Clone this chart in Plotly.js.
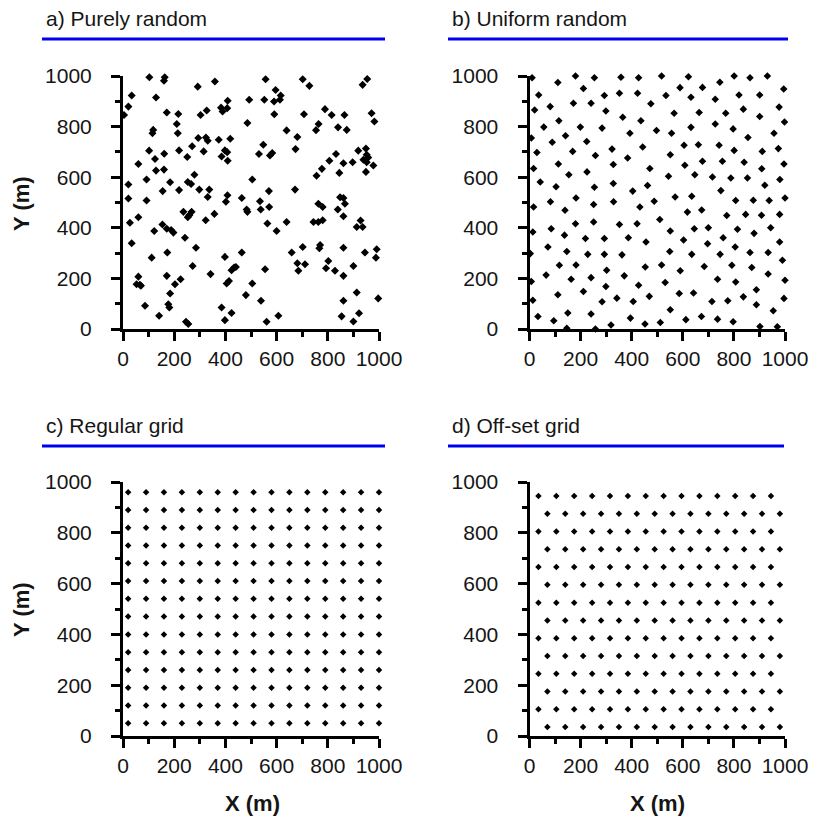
<!DOCTYPE html>
<html>
<head>
<meta charset="utf-8">
<script src="https://cdn.plot.ly/plotly-3.0.1.min.js"></script>
<style>html,body{margin:0;padding:0;background:#fff;}#chart{width:814px;height:820px;}</style>
</head>
<body>
<div id="chart"></div>
<script>
// ---------- Data ----------
// a) Purely random
const randX = [103,163,160,292,359,557,702,728,936,954,34,129,21,4,171,216,303,327,383,389,409,407,493,552,596,590,616,613,591,707,789,815,865,971,982,210,214,118,115,486,639,681,764,754,840,874,294,324,331,374,419,548,674,102,161,219,270,251,315,385,398,407,409,531,574,583,125,60,129,160,279,832,806,861,897,919,949,952,958,939,952,978,949,777,756,845,21,92,184,253,266,505,155,219,298,337,672,570,
21,92,331,408,464,535,571,483,486,538,402,27,60,34,122,154,171,188,197,236,268,259,253,242,285,323,357,564,639,600,744,763,780,763,780,839,861,848,861,867,928,913,936,112,173,60,53,66,70,171,184,177,181,225,203,86,141,272,246,255,342,398,434,441,424,464,405,414,505,480,385,398,424,539,555,561,607,659,702,681,685,711,770,767,793,802,828,861,861,900,913,861,854,900,922,945,988,991,997];
const randY = [995,995,981,958,978,987,987,961,965,988,923,915,879,846,856,850,846,864,875,860,902,873,906,906,945,899,923,906,849,849,869,846,846,853,820,810,774,787,774,814,785,759,810,786,797,787,755,757,744,748,752,728,711,705,693,706,722,680,702,682,706,699,665,692,686,696,672,652,626,630,610,692,665,655,659,705,713,689,678,669,659,646,621,633,606,617,571,591,580,581,573,591,545,549,551,551,551,545,
516,508,522,529,518,505,482,472,463,472,503,420,442,339,387,413,396,391,381,463,463,450,442,361,321,430,455,417,423,387,423,423,430,495,482,472,446,521,518,495,429,403,403,282,302,207,177,175,171,210,140,98,85,197,177,92,52,249,29,20,217,285,243,245,232,302,180,190,180,134,85,35,63,112,236,29,52,302,324,260,230,256,332,319,240,269,230,321,210,249,144,112,50,30,62,302,282,315,121];

// b) Uniform random
const unifX = [10,111,180,254,358,427,517,622,801,863,931,745,677,589,211,352,423,293,36,534,632,820,901,995,20,81,172,241,299,365,436,475,566,664,727,768,837,901,977,998,115,56,7,141,199,284,393,497,556,632,727,797,855,957,89,224,323,443,605,661,742,801,911,974,29,169,258,384,551,16,113,328,471,608,677,755,840,909,996,154,225,42,104,254,328,404,462,544,647,716,788,853,921,980,749,
16,82,182,251,329,432,488,570,635,807,876,938,1000,139,618,674,772,846,908,979,510,180,251,352,421,13,85,137,219,293,387,456,551,645,700,814,879,944,603,697,758,805,979,72,146,228,293,362,549,635,746,863,934,3,117,182,302,371,453,517,590,684,792,870,990,65,163,241,934,736,807,1000,7,531,427,299,111,211,342,406,469,586,642,714,776,837,888,284,13,888,996,33,95,150,241,146,258,319,395,452,512,551,612,673,736,797,954,902,970];
const unifY = [993,974,1000,993,995,993,1000,997,1000,993,1000,975,955,954,951,932,932,923,925,923,916,925,925,949,866,879,892,892,862,837,823,890,853,856,908,853,869,840,877,818,823,798,755,764,798,794,774,785,774,797,810,791,757,774,738,741,711,719,726,728,726,706,702,713,698,702,686,676,689,634,652,650,634,647,663,663,659,633,652,610,621,581,562,560,575,545,567,604,610,601,597,597,568,591,547,
482,503,518,492,503,482,505,522,525,508,509,508,518,469,462,470,449,453,450,453,433,416,423,413,416,383,396,371,358,358,361,344,387,396,400,394,378,400,352,337,361,324,344,324,306,295,295,293,306,295,295,302,302,298,252,253,232,210,245,253,230,247,252,243,272,213,197,203,217,197,186,193,188,184,173,168,135,148,122,109,129,140,142,109,112,127,155,108,114,96,121,49,33,63,59,3,0,16,43,20,26,76,37,49,39,29,72,10,9];

// c) Regular grid
const gridX = [20,90,160,230,300,370,440,510,580,650,720,790,860,930,1000];
const gridY = [50,120,190,260,330,400,470,540,610,680,750,820,890,960];

// d) Off-set grid
const offY = [35,105,175,245,315,385,455,525,595,665,735,805,875,945];
const offXShort = [70,140,210,280,350,420,490,560,630,700,770,840,910,980]; // rows at y = 35,175,...
const offXLong  = [35,105,175,245,315,385,455,525,595,665,735,805,875,945]; // rows at y = 105,245,...

const panelTitles = ["a) Purely random","b) Uniform random","c) Regular grid","d) Off-set grid"];
const tickVals = [0,200,400,600,800,1000];

// ---------- Build grid traces ----------
const gX = [], gY = [];
gridY.forEach(y => gridX.forEach(x => { gX.push(x); gY.push(y); }));
const oX = [], oY = [];
offY.forEach((y, k) => {
  const row = (k % 2 === 0) ? offXShort : offXLong;
  row.forEach(x => { oX.push(x); oY.push(y); });
});

const FONT = "Liberation Sans, Arial, Helvetica, sans-serif";
const TXT = '#151515';
const mk = (sz) => ({symbol: 'diamond', size: sz, color: '#000', line: {width: 0}});

const traces = [
  {x: randX, y: randY, xaxis: 'x', yaxis: 'y', mode: 'markers', type: 'scatter', marker: mk(6.2), cliponaxis: false, hoverinfo: 'x+y'},
  {x: unifX, y: unifY, xaxis: 'x2', yaxis: 'y2', mode: 'markers', type: 'scatter', marker: mk(5.8), cliponaxis: false, hoverinfo: 'x+y'},
  {x: gX, y: gY, xaxis: 'x3', yaxis: 'y3', mode: 'markers', type: 'scatter', marker: mk(5), cliponaxis: false, hoverinfo: 'x+y'},
  {x: oX, y: oY, xaxis: 'x4', yaxis: 'y4', mode: 'markers', type: 'scatter', marker: mk(5), cliponaxis: false, hoverinfo: 'x+y'}
];

const W = 814, H = 820;
const px = v => v / W, py = v => 1 - v / H;

function axis(domain, anchor, isY) {
  const a = {
    domain: domain, anchor: anchor, range: [0, 1000],
    showgrid: false, zeroline: false,
    showline: true, linewidth: 3, linecolor: '#000', mirror: false,
    ticks: 'outside', ticklen: 9, tickwidth: 3, tickcolor: '#000',
    tickvals: tickVals, ticktext: tickVals.map(String),
    minor: {ticks: 'outside', dtick: 100, tick0: 0, ticklen: 5, tickwidth: 3, tickcolor: '#000', showgrid: false},
    tickfont: {family: FONT, size: 21, color: TXT},
    fixedrange: true
  };
  if (isY) a.ticklabelstandoff = 15;
  return a;
}

const xa = [px(123), px(379)], xb = [px(529.5), px(785)];
const yTop = [py(329), py(76)], yBot = [py(736), py(482)];

const blue = '#0000f0';
const layout = {
  width: W, height: H,
  margin: {l: 0, r: 0, t: 0, b: 0, pad: 0},
  paper_bgcolor: '#fff', plot_bgcolor: 'rgba(0,0,0,0)',
  showlegend: false,
  xaxis: axis(xa, 'y', false), yaxis: axis(yTop, 'x', true),
  xaxis2: axis(xb, 'y2', false), yaxis2: axis(yTop, 'x2', true),
  xaxis3: axis(xa, 'y3', false), yaxis3: axis(yBot, 'x3', true),
  xaxis4: axis(xb, 'y4', false), yaxis4: axis(yBot, 'x4', true),
  shapes: [
    {type: 'line', xref: 'paper', yref: 'paper', x0: px(42), x1: px(385), y0: py(39), y1: py(39), line: {color: blue, width: 3}},
    {type: 'line', xref: 'paper', yref: 'paper', x0: px(448), x1: px(788), y0: py(39), y1: py(39), line: {color: blue, width: 3}},
    {type: 'line', xref: 'paper', yref: 'paper', x0: px(42), x1: px(385), y0: py(446), y1: py(446), line: {color: blue, width: 3}},
    {type: 'line', xref: 'paper', yref: 'paper', x0: px(448), x1: px(784), y0: py(446), y1: py(446), line: {color: blue, width: 3}}
  ],
  annotations: [
    {text: panelTitles[0], xref: 'paper', yref: 'paper', x: px(44), y: py(18), xanchor: 'left', yanchor: 'middle', showarrow: false, font: {family: FONT, size: 21, color: TXT}},
    {text: panelTitles[1], xref: 'paper', yref: 'paper', x: px(450), y: py(18), xanchor: 'left', yanchor: 'middle', showarrow: false, font: {family: FONT, size: 21, color: TXT}},
    {text: panelTitles[2], xref: 'paper', yref: 'paper', x: px(44), y: py(425), xanchor: 'left', yanchor: 'middle', showarrow: false, font: {family: FONT, size: 21, color: TXT}},
    {text: panelTitles[3], xref: 'paper', yref: 'paper', x: px(450), y: py(425), xanchor: 'left', yanchor: 'middle', showarrow: false, font: {family: FONT, size: 21, color: TXT}},
    {text: '<b>Y (m)</b>', xref: 'paper', yref: 'paper', x: px(21), y: py(204), xanchor: 'center', yanchor: 'middle', textangle: -90, showarrow: false, font: {family: FONT, size: 22, color: TXT}},
    {text: '<b>Y (m)</b>', xref: 'paper', yref: 'paper', x: px(21), y: py(610), xanchor: 'center', yanchor: 'middle', textangle: -90, showarrow: false, font: {family: FONT, size: 22, color: TXT}},
    {text: '<b>X (m)</b>', xref: 'paper', yref: 'paper', x: px(252), y: py(803), xanchor: 'center', yanchor: 'middle', showarrow: false, font: {family: FONT, size: 22, color: TXT}},
    {text: '<b>X (m)</b>', xref: 'paper', yref: 'paper', x: px(657), y: py(803), xanchor: 'center', yanchor: 'middle', showarrow: false, font: {family: FONT, size: 22, color: TXT}}
  ]
};

Plotly.newPlot('chart', traces, layout, {displayModeBar: false, staticPlot: true});
</script>
</body>
</html>
